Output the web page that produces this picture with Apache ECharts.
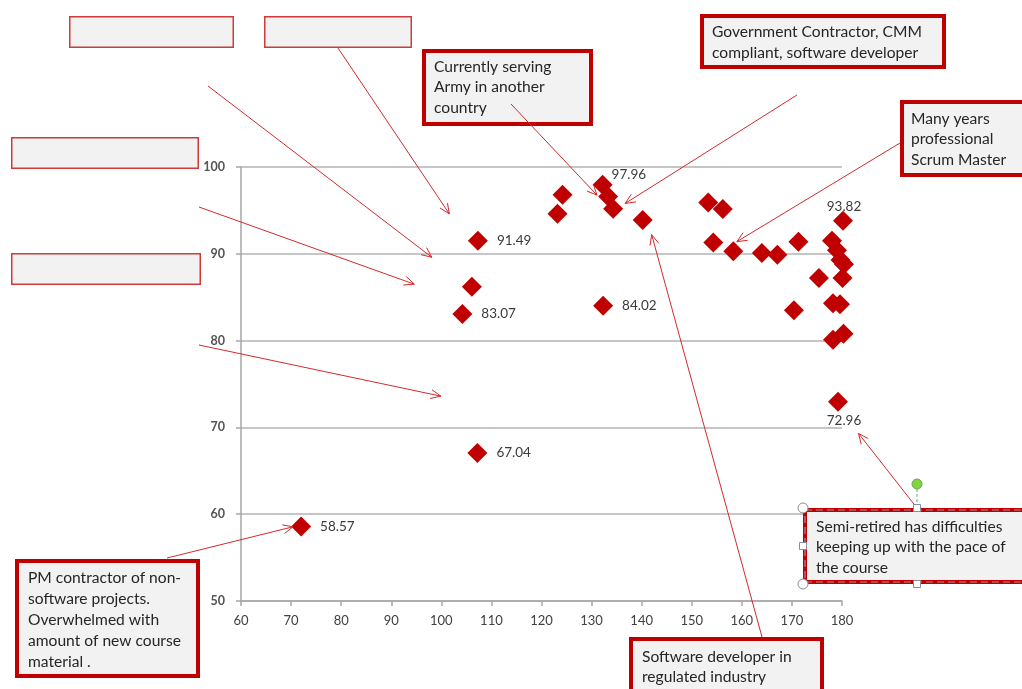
<!DOCTYPE html>
<html>
<head>
<meta charset="utf-8">
<script src="https://cdn.jsdelivr.net/npm/echarts@6/dist/echarts.min.js"></script>
<style>
  html, body { margin: 0; padding: 0; background: #ffffff; }
  #chart { width: 1022px; height: 689px; }
</style>
</head>
<body>
<div id="chart"></div>
<script>
// Participant results: x value and score for each participant
const xValues = [72.0, 107.2, 104.2, 106.1, 107.3, 123.2, 124.2, 132.2, 133.3, 134.3,
                 132.3, 140.2, 153.3, 156.2, 154.3, 158.3, 164.0, 167.1, 171.3, 175.4,
                 170.4, 180.2, 178.0, 179.0, 179.7, 180.4, 180.1, 178.2, 179.6, 178.2,
                 180.3, 179.2];
const yValues = [58.57, 67.04, 83.07, 86.2, 91.49, 94.6, 96.8, 97.96, 96.6, 95.2,
                 84.02, 93.9, 95.9, 95.15, 91.3, 90.3, 90.1, 89.9, 91.4, 87.2,
                 83.5, 93.82, 91.5, 90.4, 89.3, 88.8, 87.2, 84.3, 84.2, 80.1,
                 80.8, 72.96];

// Axis tick labels
const xTickLabels = [60, 70, 80, 90, 100, 110, 120, 130, 140, 150, 160, 170, 180];
const yTickLabels = [50, 60, 70, 80, 90, 100];

// Which points carry a value label, and on which side
const labelSide = { 0: 'right', 1: 'right', 2: 'right', 4: 'right', 7: 'upRight',
                    10: 'right', 21: 'top', 31: 'bottom' };

// Callout notes: text, box outline (pixels) and the data position each arrow points at
const callouts = [
  { text: '', box: [69, 16, 165, 32], thin: true, from: [338, 48], to: [101.6, 94.6] },
  { text: '', box: [264, 16, 148, 32], thin: true, from: null, to: null },
  { text: '', box: [11, 137, 188, 32], thin: true, from: [208, 86], to: [98.1, 89.6] },
  { text: '', box: [11, 253, 190, 32], thin: true, from: [199, 207], to: [94.6, 86.5] },
  { text: '', box: null, thin: true, from: [199, 345], to: [99.9, 73.6] },
  { text: 'Currently serving\nArmy in another\ncountry', box: [422, 49, 171, 77],
    textAt: [434, 56.5], from: [511, 104], to: [131.1, 96.75] },
  { text: 'Government Contractor, CMM\ncompliant, software developer', box: [700, 14, 246, 55],
    textAt: [712, 22], from: [797, 95], to: [136.7, 95.8] },
  { text: 'Many years\nprofessional\nScrum Master', box: [900, 100, 130, 77],
    textAt: [911, 108.5], from: [900, 143], to: [159.0, 91.4] },
  { text: 'Software developer in\nregulated industry', box: [629, 637, 195, 70],
    textAt: [642, 646.5], from: [762, 637], to: [142.0, 92.2] },
  { text: 'Semi-retired has difficulties\nkeeping up with the pace of\nthe course', box: [803, 508, 230, 76],
    textAt: [816, 516.5], from: [917, 508], to: [183.3, 69.3], selected: true },
  { text: 'PM contractor of non-\nsoftware projects.\nOverwhelmed with\namount of new course\nmaterial .', box: [15, 559, 185, 119],
    textAt: [28, 567.5], lineHeight: 21, from: [167, 558], to: [70.4, 58.55] }
];

const DARK_RED = '#c00000';
const ARROW_RED = '#d42a2a';
const FONT = 'Lato, "Open Sans", sans-serif';

function labelFor(i) {
  const side = labelSide[i];
  if (!side) return { show: false };
  const base = {
    show: true, color: '#3a3a3a', fontSize: 13.5, fontFamily: FONT,
    formatter: p => p.value[1].toFixed(2)
  };
  if (side === 'right') return Object.assign(base, { position: 'right', distance: 9 });
  if (side === 'upRight') return Object.assign(base, { position: 'right', distance: 0, offset: [-1, -10] });
  if (side === 'top') return Object.assign(base, { position: 'top', distance: 1, offset: [1, 4] });
  return Object.assign(base, { position: 'bottom', distance: 2, offset: [6, 0] });
}

const points = xValues.map((x, i) => ({ value: [x, yValues[i]], label: labelFor(i) }));

const chart = echarts.init(document.getElementById('chart'), null, { renderer: 'canvas' });

chart.setOption({
  animation: false,
  backgroundColor: '#ffffff',
  grid: { left: 241, right: 180, top: 167, bottom: 88, containLabel: false },
  xAxis: {
    type: 'value',
    min: xTickLabels[0], max: xTickLabels[xTickLabels.length - 1],
    interval: xTickLabels[1] - xTickLabels[0],
    axisLine: { show: true, lineStyle: { color: '#a6a6a6', width: 1.5 } },
    axisTick: { show: true, length: 5, lineStyle: { color: '#a6a6a6', width: 1.5 } },
    axisLabel: { color: '#404040', fontSize: 13, fontFamily: FONT, margin: 13 },
    splitLine: { show: false }
  },
  yAxis: {
    type: 'value',
    min: yTickLabels[0], max: yTickLabels[yTickLabels.length - 1],
    interval: yTickLabels[1] - yTickLabels[0],
    axisLine: { show: true, lineStyle: { color: '#a6a6a6', width: 1.5 } },
    axisTick: { show: true, length: 5, lineStyle: { color: '#a6a6a6', width: 1.5 } },
    axisLabel: { color: '#555555', fontSize: 12.5, fontWeight: 'bold', fontFamily: FONT, margin: 16 },
    splitLine: { show: true, lineStyle: { color: '#b3b3b3', width: 1.5 } }
  },
  series: [{
    type: 'scatter',
    symbol: 'diamond',
    symbolSize: 20,
    clip: false,
    itemStyle: { color: DARK_RED, opacity: 1 },
    emphasis: { disabled: true },
    data: points,
    z: 3
  }]
});

function arrow(from, tip) {
  const ang = Math.atan2(tip[1] - from[1], tip[0] - from[0]);
  const L = 11, a = 0.42;
  const p1 = [tip[0] - L * Math.cos(ang - a), tip[1] - L * Math.sin(ang - a)];
  const p2 = [tip[0] - L * Math.cos(ang + a), tip[1] - L * Math.sin(ang + a)];
  return [
    { type: 'line', z: 120, shape: { x1: from[0], y1: from[1], x2: tip[0], y2: tip[1] },
      style: { stroke: ARROW_RED, lineWidth: 1 } },
    { type: 'polyline', z: 120, shape: { points: [p1, tip, p2] },
      style: { stroke: ARROW_RED, fill: null, lineWidth: 1 } }
  ];
}

function selectionHandles(b) {
  const [x, y, w, h] = b;
  const cx = 917;
  const els = [];
  els.push({ type: 'line', z: 130, shape: { x1: cx, y1: y - 19, x2: cx, y2: y - 4 },
             style: { stroke: '#7f8fa6', lineWidth: 1, lineDash: [3, 2] } });
  els.push({ type: 'circle', z: 131, shape: { cx: cx, cy: y - 24, r: 5 },
             style: { fill: '#84d442', stroke: '#6aa84f', lineWidth: 1 } });
  [[x, y], [x, y + h]].forEach(p => els.push({ type: 'circle', z: 131,
    shape: { cx: p[0], cy: p[1], r: 5 }, style: { fill: '#ffffff', stroke: '#8c8c8c', lineWidth: 1 } }));
  [[cx, y], [cx, y + h], [x, y + h / 2]].forEach(p => els.push({ type: 'rect', z: 131,
    shape: { x: p[0] - 3.5, y: p[1] - 3.5, width: 7, height: 7 },
    style: { fill: '#ffffff', stroke: '#7f8fa6', lineWidth: 1 } }));
  return els;
}

const graphics = [];
callouts.forEach(c => {
  if (c.box) {
    const [x, y, w, h] = c.box;
    if (c.thin) {
      graphics.push({ type: 'rect', z: 110, shape: { x: x + 0.75, y: y + 0.75, width: w - 1.5, height: h - 1.5 },
                      style: { fill: '#f2f2f2', stroke: '#d03a3a', lineWidth: 1.5 } });
    } else {
      graphics.push({ type: 'rect', z: 110, shape: { x: x + 2, y: y + 2, width: w - 4, height: h - 4 },
                      style: { fill: '#f2f2f2', stroke: DARK_RED, lineWidth: 4 } });
      if (c.selected) {
        graphics.push({ type: 'rect', z: 111, shape: { x: x + 2, y: y + 2, width: w - 4, height: h - 4 },
                        style: { fill: null, stroke: '#9a8fa8', lineWidth: 1.2, lineDash: [7, 4] } });
      }
    }
    if (c.text) {
      graphics.push({ type: 'text', z: 112,
        style: { text: c.text, x: c.textAt[0], y: c.textAt[1], fill: '#262626',
                 fontSize: 15.6, fontFamily: FONT, lineHeight: c.lineHeight || 20.5,
                 verticalAlign: 'top', align: 'left' } });
    }
    if (c.selected) selectionHandles(c.box).forEach(e => graphics.push(e));
  }
  if (c.from && c.to) {
    const tip = chart.convertToPixel({ gridIndex: 0 }, c.to);
    arrow(c.from, tip).forEach(e => graphics.push(e));
  }
});

chart.setOption({ graphic: graphics });
</script>
</body>
</html>
